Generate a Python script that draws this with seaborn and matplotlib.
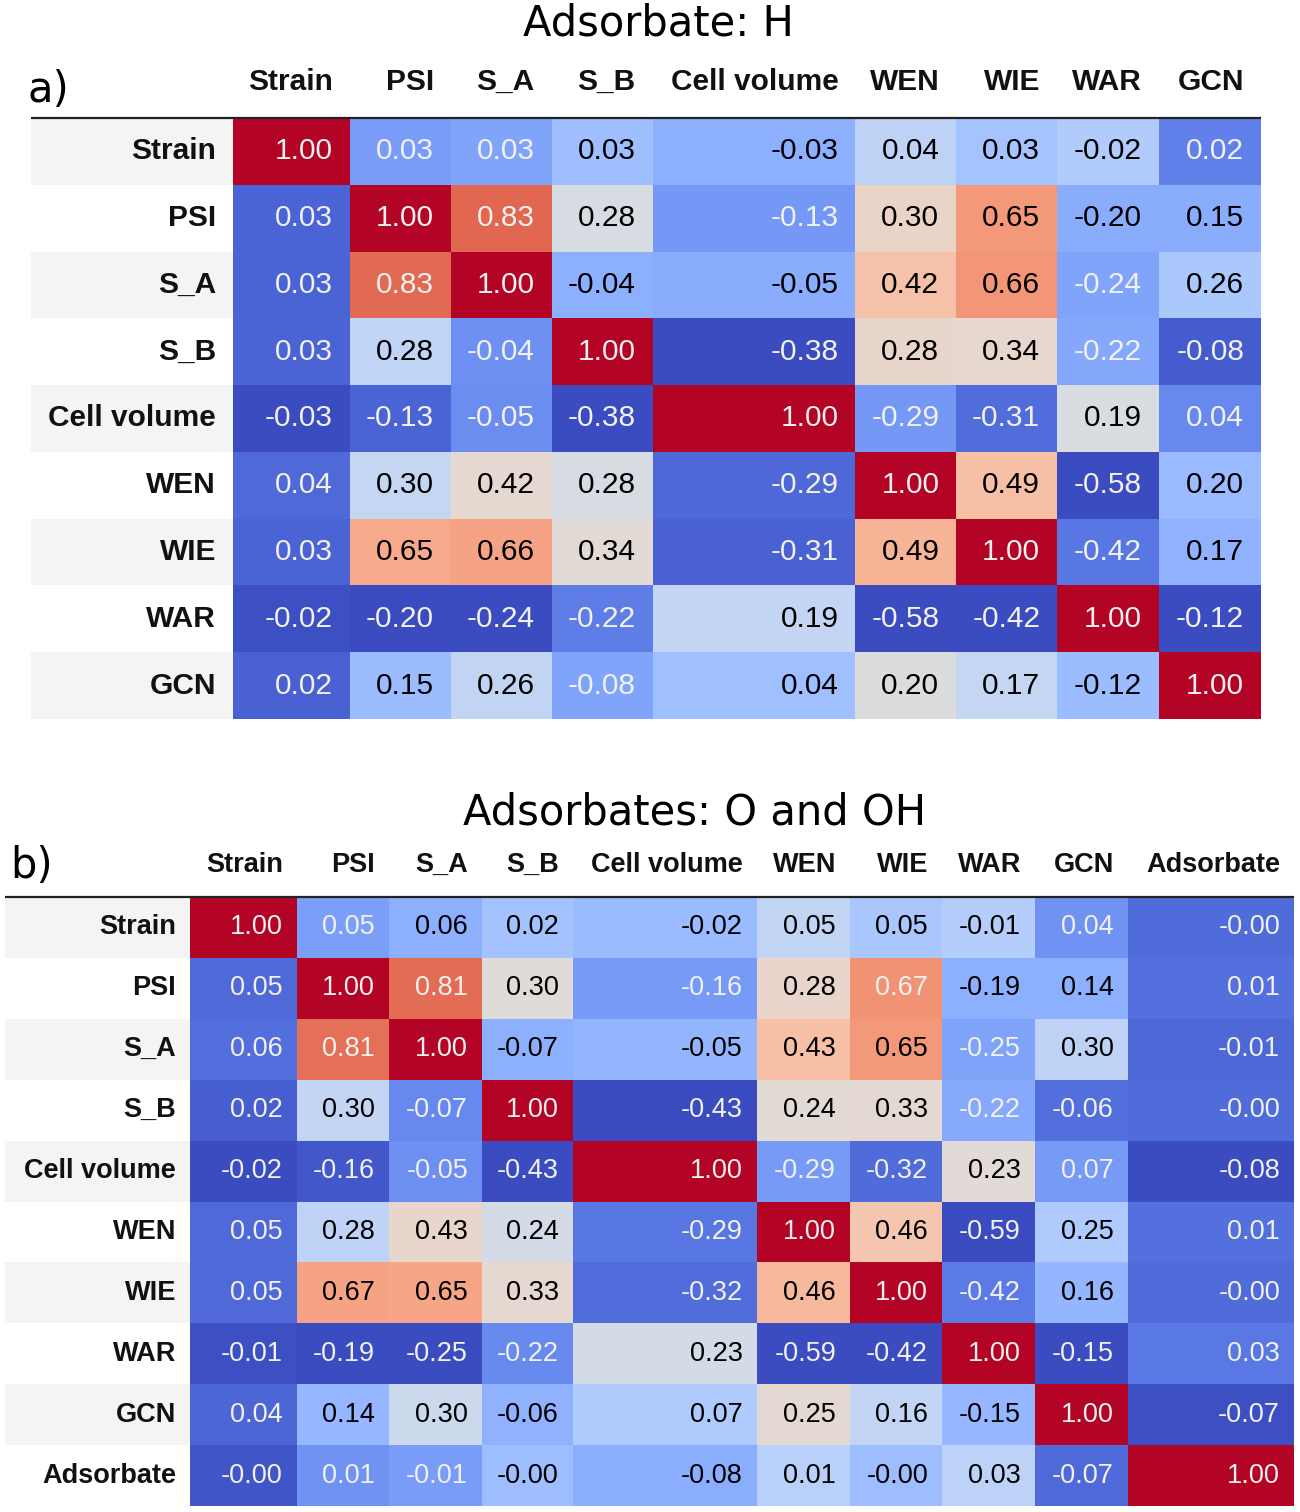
import numpy as np
import pandas as pd
import matplotlib.pyplot as plt
import seaborn as sns
from matplotlib.patches import Rectangle

# panel a) adsorbate H
labels_h = ['Strain', 'PSI', 'S_A', 'S_B', 'Cell volume', 'WEN', 'WIE', 'WAR', 'GCN']
corr_h = [
    [1.00, 0.03, 0.03, 0.03, -0.03, 0.04, 0.03, -0.02, 0.02],
    [0.03, 1.00, 0.83, 0.28, -0.13, 0.30, 0.65, -0.20, 0.15],
    [0.03, 0.83, 1.00, -0.04, -0.05, 0.42, 0.66, -0.24, 0.26],
    [0.03, 0.28, -0.04, 1.00, -0.38, 0.28, 0.34, -0.22, -0.08],
    [-0.03, -0.13, -0.05, -0.38, 1.00, -0.29, -0.31, 0.19, 0.04],
    [0.04, 0.30, 0.42, 0.28, -0.29, 1.00, 0.49, -0.58, 0.20],
    [0.03, 0.65, 0.66, 0.34, -0.31, 0.49, 1.00, -0.42, 0.17],
    [-0.02, -0.20, -0.24, -0.22, 0.19, -0.58, -0.42, 1.00, -0.12],
    [0.02, 0.15, 0.26, -0.08, 0.04, 0.20, 0.17, -0.12, 1.00],
]

# panel b) adsorbates O and OH
labels_o = ['Strain', 'PSI', 'S_A', 'S_B', 'Cell volume', 'WEN', 'WIE', 'WAR', 'GCN', 'Adsorbate']
corr_o = [
    [1.00, 0.05, 0.06, 0.02, -0.02, 0.05, 0.05, -0.01, 0.04, -0.0],
    [0.05, 1.00, 0.81, 0.30, -0.16, 0.28, 0.67, -0.19, 0.14, 0.01],
    [0.06, 0.81, 1.00, -0.07, -0.05, 0.43, 0.65, -0.25, 0.30, -0.01],
    [0.02, 0.30, -0.07, 1.00, -0.43, 0.24, 0.33, -0.22, -0.06, -0.0],
    [-0.02, -0.16, -0.05, -0.43, 1.00, -0.29, -0.32, 0.23, 0.07, -0.08],
    [0.05, 0.28, 0.43, 0.24, -0.29, 1.00, 0.46, -0.59, 0.25, 0.01],
    [0.05, 0.67, 0.65, 0.33, -0.32, 0.46, 1.00, -0.42, 0.16, -0.0],
    [-0.01, -0.19, -0.25, -0.22, 0.23, -0.59, -0.42, 1.00, -0.15, 0.03],
    [0.04, 0.14, 0.30, -0.06, 0.07, 0.25, 0.16, -0.15, 1.00, -0.07],
    [-0.0, 0.01, -0.01, -0.0, -0.08, 0.01, -0.0, 0.03, -0.07, 1.00],
]

W, H = 1300, 1512
TABLE_FONT = 'Liberation Sans'
cmap = sns.color_palette('coolwarm', as_cmap=True)


def text_color(rgba):
    # same rule pandas' background_gradient uses
    def lin(x):
        return x / 12.92 if x <= 0.04045 else ((x + 0.055) / 1.055) ** 2.4
    r, g, b = rgba[:3]
    lum = 0.2126 * lin(r) + 0.7152 * lin(g) + 0.0722 * lin(b)
    return '#f1f1f1' if lum < 0.408 else '#000000'


def draw_table(fig, corr, labels, left, top, right, bottom, label_left, widths, fs, pad, head_gap):
    df = pd.DataFrame(corr, index=labels, columns=labels)
    norm = (df - df.min()) / (df.max() - df.min())   # per column, like Styler
    wide = pd.DataFrame(np.repeat(norm.values, widths, axis=1))

    ax = fig.add_axes([left / W, 1 - bottom / H, (right - left) / W, (bottom - top) / H])
    sns.heatmap(wide, ax=ax, cmap=cmap, vmin=0, vmax=1, cbar=False,
                xticklabels=False, yticklabels=False)
    ax.tick_params(length=0)

    n = len(labels)
    row_h = (bottom - top) / n
    edges = np.cumsum(widths)
    label_w = left - label_left

    for i, name in enumerate(labels):
        if i % 2 == 0:
            ax.add_patch(Rectangle((-label_w, i), label_w, 1, facecolor='#f4f4f4',
                                   edgecolor='none', clip_on=False, zorder=0))
        ax.text(-pad, i + 0.5, name, ha='right', va='center', fontsize=fs,
                fontweight='bold', family=TABLE_FONT, color='#111111')
        for j in range(n):
            v = df.iloc[i, j]
            ax.text(edges[j] - pad, i + 0.5, f'{v:.2f}', ha='right', va='center',
                    fontsize=fs, family=TABLE_FONT, color=text_color(cmap(norm.iloc[i, j])))

    for j, name in enumerate(labels):
        ax.text(edges[j] - pad, -head_gap / row_h, name, ha='right', va='baseline',
                fontsize=fs, fontweight='bold', family=TABLE_FONT, color='#111111',
                clip_on=False)

    ax.plot([-label_w, edges[-1]], [0, 0], color='#222222', lw=1.6, clip_on=False,
            solid_capstyle='butt')
    return ax


fig = plt.figure(figsize=(W / 100, H / 100), dpi=100)

draw_table(fig, corr_h, labels_h, 233, 118, 1261, 719, 31,
           [117, 101, 101, 101, 203, 101, 101, 102, 102], 21.5, 17, 28)
fig.text(658 / W, 1 - 36 / H, 'Adsorbate: H', ha='center', va='baseline', fontsize=30)
fig.text(27 / W, 1 - 102 / H, 'a)', ha='left', va='baseline', fontsize=30)

draw_table(fig, corr_o, labels_o, 190, 897, 1294, 1506, 5,
           [107, 92, 93, 91, 184, 93, 92, 93, 93, 166], 19.5, 14, 25)
fig.text(695 / W, 1 - 825 / H, 'Adsorbates: O and OH', ha='center', va='baseline', fontsize=30)
fig.text(10 / W, 1 - 878 / H, 'b)', ha='left', va='baseline', fontsize=30)

fig.savefig('out.png', dpi=100, facecolor='white')
